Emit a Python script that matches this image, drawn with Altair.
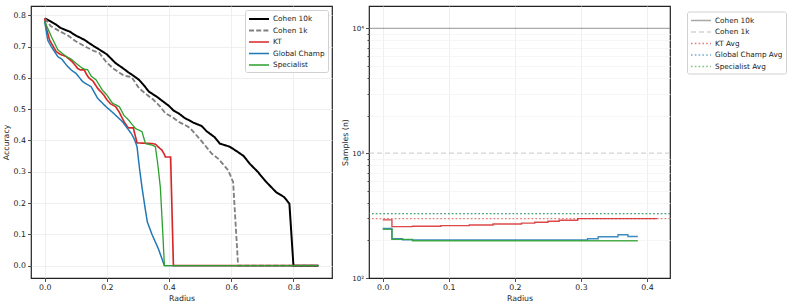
import altair as alt
import pandas as pd

# ---------------- Left panel: accuracy vs radius ----------------
series_order = ["Cohen 10k", "Cohen 1k", "KT", "Global Champ", "Specialist"]

cohen10k_r = [0.0, 0.02, 0.037, 0.05, 0.069, 0.08, 0.1, 0.117, 0.13, 0.143, 0.16, 0.186, 0.2, 0.228,
              0.25, 0.27, 0.285, 0.303, 0.32, 0.335, 0.36, 0.38, 0.40, 0.415, 0.43, 0.45, 0.478, 0.505,
              0.52, 0.547, 0.563, 0.595, 0.62, 0.64, 0.66, 0.685, 0.71, 0.744, 0.77, 0.787, 0.80, 0.88]
cohen10k_a = [0.79, 0.78, 0.77, 0.76, 0.752, 0.748, 0.735, 0.727, 0.72, 0.711, 0.70, 0.684, 0.675, 0.647,
              0.632, 0.617, 0.607, 0.594, 0.575, 0.556, 0.54, 0.525, 0.51, 0.495, 0.487, 0.472, 0.457, 0.446,
              0.43, 0.41, 0.39, 0.38, 0.364, 0.35, 0.325, 0.30, 0.27, 0.235, 0.219, 0.198, 0.0, 0.0]

cohen1k_r = [0.0, 0.02, 0.048, 0.075, 0.10, 0.13, 0.16, 0.175, 0.197, 0.22, 0.25, 0.265, 0.28, 0.303,
             0.33, 0.35, 0.37, 0.388, 0.41, 0.43, 0.45, 0.467, 0.494, 0.515, 0.537, 0.56, 0.59, 0.606,
             0.622, 0.88]
cohen1k_a = [0.79, 0.765, 0.749, 0.735, 0.717, 0.70, 0.685, 0.68, 0.652, 0.63, 0.61, 0.605, 0.602, 0.567,
             0.545, 0.53, 0.51, 0.487, 0.475, 0.46, 0.45, 0.44, 0.41, 0.385, 0.358, 0.34, 0.305, 0.267,
             0.0, 0.0]

kt_r = [0.0, 0.005, 0.016, 0.037, 0.05, 0.069, 0.09, 0.106, 0.115, 0.127, 0.135, 0.143, 0.155, 0.17,
        0.19, 0.2, 0.212, 0.228, 0.24, 0.255, 0.265, 0.27, 0.285, 0.29, 0.297, 0.30, 0.345, 0.356,
        0.37, 0.377, 0.385, 0.388, 0.404, 0.405, 0.414, 0.88]
kt_a = [0.79, 0.76, 0.72, 0.684, 0.675, 0.668, 0.65, 0.63, 0.625, 0.626, 0.61, 0.599, 0.59, 0.567,
        0.545, 0.53, 0.517, 0.508, 0.49, 0.46, 0.445, 0.44, 0.44, 0.42, 0.392, 0.392, 0.39, 0.388,
        0.375, 0.369, 0.355, 0.347, 0.347, 0.347, 0.0, 0.0]

gc_r = [0.0, 0.01, 0.021, 0.042, 0.055, 0.069, 0.085, 0.10, 0.122, 0.135, 0.149, 0.17, 0.197, 0.218,
        0.25, 0.28, 0.29, 0.297, 0.305, 0.313, 0.322, 0.33, 0.345, 0.366, 0.385, 0.88]
gc_a = [0.78, 0.72, 0.70, 0.668, 0.66, 0.642, 0.625, 0.615, 0.588, 0.58, 0.572, 0.535, 0.508, 0.49,
        0.46, 0.42, 0.40, 0.38, 0.31, 0.25, 0.19, 0.14, 0.10, 0.053, 0.0, 0.0]

sp_r = [0.0, 0.021, 0.042, 0.069, 0.085, 0.10, 0.122, 0.13, 0.138, 0.15, 0.165, 0.186, 0.2, 0.218,
        0.24, 0.255, 0.27, 0.292, 0.305, 0.313, 0.324, 0.345, 0.356, 0.363, 0.372, 0.38, 0.385, 0.88]
sp_a = [0.78, 0.733, 0.69, 0.668, 0.66, 0.647, 0.63, 0.627, 0.626, 0.605, 0.594, 0.56, 0.545, 0.519,
        0.508, 0.48, 0.465, 0.438, 0.432, 0.428, 0.39, 0.385, 0.38, 0.33, 0.25, 0.1, 0.0, 0.0]

left_colors = ["#000000", "#808080", "#d62728", "#1f77b4", "#2ca02c"]
left_dashes = [[1, 0], [5, 2.2], [1, 0], [1, 0], [1, 0]]
left_widths = [2.0, 1.3, 1.3, 1.3, 1.3]

# ---------------- Right panel: samples vs radius ----------------
step_order = ["KT", "Global Champ", "Specialist"]
kt_step_r = [0.0, 0.014, 0.045, 0.088, 0.131, 0.167, 0.21, 0.23, 0.25, 0.267, 0.295, 0.415]
kt_step_n = [292, 258, 260, 263, 266, 271, 275, 280, 285, 290, 299, 299]
gc_step_r = [0.0, 0.014, 0.03, 0.31, 0.326, 0.356, 0.371, 0.386]
gc_step_n = [250, 206, 202, 206, 214, 222, 215, 215]
sp_step_r = [0.0, 0.014, 0.045, 0.386]
sp_step_n = [245, 204, 199, 199]
step_colors = ["#d62728", "#1f77b4", "#2ca02c"]

ref_names = ["Cohen 10k", "Cohen 1k", "KT Avg", "Global Champ Avg", "Specialist Avg"]
ref_values = [10000, 1000, 299, 328, 328]
ref_colors = ["#6f6f6f", "#b8b8b8", "#d62728", "#1f77b4", "#2ca02c"]
ref_dashes = [[1, 0], [5, 3], [1.6, 2.2], [1.6, 2.2], [1.6, 2.2]]

major_ticks = [100, 1000, 10000]
minor_ticks = [200, 300, 400, 500, 600, 700, 800, 900,
               2000, 3000, 4000, 5000, 6000, 7000, 8000, 9000]

FONT = "DejaVu Sans"


def long_df(names, rs, vals, vname):
    frames = []
    for k, (nm, r, v) in enumerate(zip(names, rs, vals)):
        frames.append(pd.DataFrame({"series": nm, "radius": r, vname: v, "k": k}))
    return pd.concat(frames, ignore_index=True)


left_df = long_df(series_order,
                  [cohen10k_r, cohen1k_r, kt_r, gc_r, sp_r],
                  [cohen10k_a, cohen1k_a, kt_a, gc_a, sp_a], "acc")

step_df = long_df(step_order, [kt_step_r, gc_step_r, sp_step_r],
                  [kt_step_n, gc_step_n, sp_step_n], "n")
ref_df = pd.DataFrame({"name": ref_names, "n": ref_values})

W, H = 301, 272

legend_common = dict(
    symbolType="M-1,0H3", symbolSize=100, symbolStrokeWidth=1.5,
    labelFont=FONT, labelFontSize=7.3, labelColor="#222222",
    fillColor="white", strokeColor="#d0d0d0", padding=3, cornerRadius=2,
    rowPadding=1.5, labelOffset=13,
)

left = alt.Chart(left_df).mark_line(clip=True).encode(
    x=alt.X("radius:Q",
            scale=alt.Scale(domain=[-0.044, 0.924], nice=False, zero=False),
            axis=alt.Axis(values=[0, 0.2, 0.4, 0.6, 0.8], format=".1f", title="Radius")),
    y=alt.Y("acc:Q",
            scale=alt.Scale(domain=[-0.0395, 0.8295], nice=False, zero=False),
            axis=alt.Axis(values=[0, 0.1, 0.2, 0.3, 0.4, 0.5, 0.6, 0.7, 0.8], format=".1f",
                          title="Accuracy")),
    color=alt.Color("series:N", sort=series_order,
                    scale=alt.Scale(domain=series_order, range=left_colors),
                    legend=alt.Legend(orient="top-right", offset=4, **legend_common),
                    title=None),
    strokeDash=alt.StrokeDash("series:N", sort=series_order,
                              scale=alt.Scale(domain=series_order, range=left_dashes),
                              title=None),
    strokeWidth=alt.StrokeWidth("series:N",
                                scale=alt.Scale(domain=series_order, range=left_widths),
                                legend=None),
    order=alt.Order("radius:Q"),
).properties(width=W, height=H)

yscale = alt.Scale(type="log", domain=[100, 15100], nice=False)

rules = alt.Chart(ref_df).mark_rule(strokeWidth=1.3, opacity=0.6).encode(
    y=alt.Y("n:Q", scale=yscale,
            axis=alt.Axis(values=minor_ticks, labels=False, title=None, tickSize=2,
                          gridColor="#f4f4f4", orient="left")),
    color=alt.Color("name:N",
                    scale=alt.Scale(domain=ref_names, range=ref_colors),
                    legend=alt.Legend(orient="none", legendX=318, legendY=5.5,
                                      symbolOpacity=0.6, **legend_common),
                    title=None),
    strokeDash=alt.StrokeDash("name:N",
                              scale=alt.Scale(domain=ref_names, range=ref_dashes),
                              title=None),
)

steps = alt.Chart(step_df).mark_line(interpolate="step-after", strokeWidth=1.4, opacity=0.85).encode(
    x=alt.X("radius:Q",
            scale=alt.Scale(domain=[-0.0207, 0.4347], nice=False, zero=False),
            axis=alt.Axis(values=[0, 0.1, 0.2, 0.3, 0.4], format=".1f", title="Radius")),
    y=alt.Y("n:Q", scale=yscale,
            axis=alt.Axis(values=major_ticks, title="Samples (n)", orient="left",
                          labelFontSize=7, titlePadding=2,
                          labelExpr="datum.value == 100 ? '10²' : datum.value == 1000 ? '10³' : '10⁴'")),
    color=alt.Color("series:N",
                    scale=alt.Scale(domain=step_order, range=step_colors),
                    legend=None),
    order=alt.Order("radius:Q"),
)

right = alt.layer(rules, steps).resolve_scale(
    color="independent", strokeDash="independent"
).resolve_axis(y="independent").properties(width=W, height=H)

chart = alt.hconcat(left, right, spacing=8).resolve_scale(
    color="independent", strokeDash="independent", strokeWidth="independent"
).configure(
    padding={"left": 1, "top": 5, "right": 5, "bottom": 5},
    font=FONT,
).configure_view(
    stroke="#222222", strokeWidth=1.2
).configure_axis(
    domain=False, grid=True, gridColor="#ebebeb", gridWidth=0.8,
    tickColor="#222222", tickSize=3.5, tickWidth=0.8,
    labelFont=FONT, labelFontSize=7.8, labelColor="#222222", labelPadding=2,
    titleFont=FONT, titleFontSize=7.8, titleFontWeight="normal", titleColor="#222222",
    titlePadding=3,
)

chart.save("out.html", embed_options={"renderer": "svg", "actions": False})
